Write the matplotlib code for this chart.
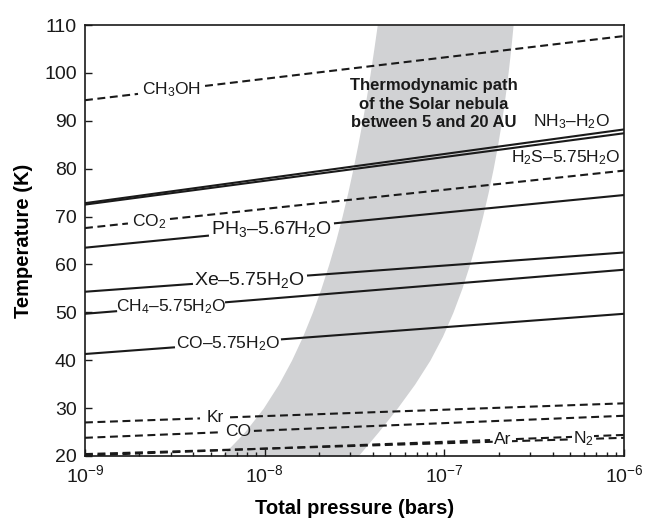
import numpy as np
import matplotlib
matplotlib.use("Agg")
import matplotlib.pyplot as plt

plt.rcParams["font.family"] = ["Liberation Sans", "DejaVu Sans"]
plt.rcParams["mathtext.fontset"] = "custom"
plt.rcParams["mathtext.rm"] = "Liberation Sans"
plt.rcParams["mathtext.it"] = "Liberation Sans"
plt.rcParams["mathtext.default"] = "regular"

# condensation curves: temperature (K) at 1e-9 and 1e-6 bar (straight in log P)
p_ends = [1e-9, 1e-6]

ch3oh = [94.3, 107.7]
nh3_h2o = [72.8, 88.2]
h2s_h2o = [72.5, 87.4]
co2 = [67.6, 79.6]
ph3_h2o = [63.5, 74.5]
xe_h2o = [54.3, 62.5]
ch4_h2o = [49.7, 58.9]
co_h2o = [41.3, 49.7]
kr = [27.0, 31.0]
co = [23.8, 28.4]
ar = [20.1, 24.4]
n2 = [20.4, 23.8]

# solar nebula path between 5 and 20 AU: log10 pressure of the band edges
band_temp = list(range(20, 111, 5))
band_logp_low = [-8.240, -8.112, -8.008, -7.923, -7.851, -7.789, -7.735, -7.687,
                 -7.644, -7.605, -7.570, -7.538, -7.509, -7.482, -7.457, -7.434,
                 -7.413, -7.393, -7.374]
band_logp_high = [-7.481, -7.369, -7.263, -7.166, -7.081, -7.011, -6.953, -6.903,
                  -6.860, -6.822, -6.788, -6.757, -6.729, -6.704, -6.682, -6.663,
                  -6.646, -6.631, -6.618]

# inline labels: curve, text, log10 P span left open for the text, font size
labels = [
    (ch3oh, "CH$_3$OH", (-8.705, -8.332), 12.5),
    (co2, "CO$_2$", (-8.761, -8.527), 12.5),
    (ph3_h2o, "PH$_3$\u20135.67H$_2$O", (-8.316, -7.609), 14),
    (xe_h2o, "Xe\u20135.75H$_2$O", (-8.405, -7.759), 14),
    (ch4_h2o, "CH$_4$\u20135.75H$_2$O", (-8.827, -8.215), 12.5),
    (co_h2o, "CO\u20135.75H$_2$O", (-8.505, -7.904), 12.5),
    (kr, "Kr", (-8.360, -8.193), 12.5),
    (co, "CO", (-8.238, -8.060), 12.5),
    (ar, "Ar", (-6.746, -6.602), 12.5),
    (n2, "N$_2$", (-6.301, -6.156), 12.5),
]


def temp_at(curve, p):
    # linear in log pressure between the two end points
    f = (np.log10(p) - np.log10(p_ends[0])) / (np.log10(p_ends[1]) - np.log10(p_ends[0]))
    return curve[0] + f * (curve[1] - curve[0])


fig = plt.figure(figsize=(6.64, 5.18), dpi=100)
ax = fig.add_axes([0.128, 0.1197, 0.812, 0.832])

ax.fill_betweenx(band_temp, 10.0 ** np.array(band_logp_low),
                 10.0 ** np.array(band_logp_high), color="#d1d2d4", lw=0, zorder=1)

solid = dict(color="#1a1a1a", lw=1.5, zorder=3)
dashed = dict(color="#1a1a1a", lw=1.5, ls=(0, (3.8, 2.2)), zorder=3)
dashed_curves = [ch3oh, co2, kr, co, ar, n2]

gaps = {id(c): g for c, _, g, _ in labels}
for curve in [nh3_h2o, h2s_h2o, ph3_h2o, xe_h2o, ch4_h2o, co_h2o] + dashed_curves:
    style = dashed if any(curve is d for d in dashed_curves) else solid
    if id(curve) in gaps:
        g0, g1 = 10.0 ** gaps[id(curve)][0], 10.0 ** gaps[id(curve)][1]
        for a, b in [(p_ends[0], g0), (g1, p_ends[1])]:
            ax.plot([a, b], [temp_at(curve, a), temp_at(curve, b)], **style)
    else:
        ax.plot(p_ends, curve, **style)

for curve, text, (g0, g1), size in labels:
    p = 10.0 ** ((g0 + g1) / 2)
    kw = {}
    if curve is ar or curve is n2:
        # Ar and N2 run close together, hide the neighbour under the text
        kw["bbox"] = dict(facecolor="white", edgecolor="none", pad=0.3)
    ax.text(p, temp_at(curve, p), text, fontsize=size, ha="center", va="center",
            color="#1a1a1a", zorder=4, **kw)

ax.text(5.1e-7, 89.8, "NH$_3$\u2013H$_2$O", fontsize=12.5, ha="center", va="center",
        color="#1a1a1a", zorder=4)
ax.text(4.75e-7, 82.2, "H$_2$S\u20135.75H$_2$O", fontsize=12.5, ha="center", va="center",
        color="#1a1a1a", zorder=4)
ax.text(8.75e-8, 93.5, "Thermodynamic path\nof the Solar nebula\nbetween 5 and 20 AU",
        fontsize=12, fontweight="bold", ha="center", va="center", color="#1a1a1a",
        linespacing=1.3, zorder=4)

ax.set_xscale("log")
ax.set_xlim(1e-9, 1e-6)
ax.set_ylim(20, 110)
ax.set_yticks(np.arange(20, 111, 10))
ax.set_xticks([1e-9, 1e-8, 1e-7, 1e-6])

ax.tick_params(which="both", direction="in", top=False, right=False,
               labelsize=14, colors="#1a1a1a", width=1.0)
ax.tick_params(which="major", length=5, pad=6)
ax.tick_params(which="minor", length=3)
for s in ax.spines.values():
    s.set_linewidth(1.2)
    s.set_color("#1a1a1a")

ax.set_xlabel("Total pressure (bars)", fontsize=14.5, fontweight="bold", labelpad=9)
ax.set_ylabel("Temperature (K)", fontsize=14.5, fontweight="bold", labelpad=8)

fig.savefig("out.png", dpi=100)
